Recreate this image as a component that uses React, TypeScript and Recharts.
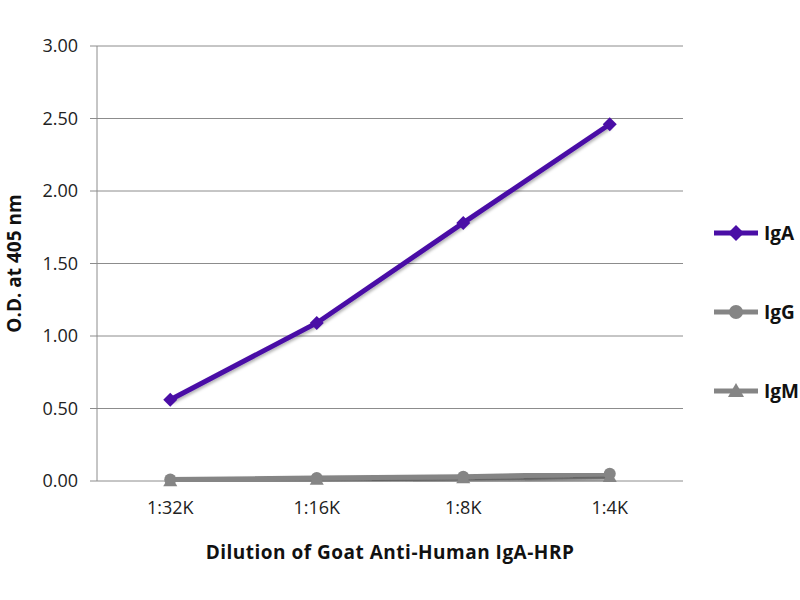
import { LineChart, Line, XAxis, YAxis, CartesianGrid } from 'recharts'

const dilutions = ['1:32K', '1:16K', '1:8K', '1:4K']
const igA = [0.56, 1.09, 1.78, 2.46]
const igG = [0.01, 0.02, 0.03, 0.05]
const igM = [0.0, 0.01, 0.02, 0.03]
const yTicks = [0, 0.5, 1, 1.5, 2, 2.5, 3]

const purple = '#4a0ea6'
const grey = '#858585'
const font = '"Open Sans", "Noto Sans", sans-serif'

// rows sit in the middle of each category band
const chartData = dilutions.map((label, i) => ({
  x: i + 0.5,
  label,
  IgA: igA[i],
  IgG: igG[i],
  IgM: igM[i],
}))

const series = [
  { key: 'IgA', color: purple, shape: 'diamond' },
  { key: 'IgG', color: grey, shape: 'circle' },
  { key: 'IgM', color: grey, shape: 'triangle' },
]

function Marker({ cx, cy, shape, color, size = 6 }: any) {
  if (cx == null || cy == null) return null
  if (shape === 'diamond') {
    const s = size + 1
    return <polygon points={`${cx},${cy - s} ${cx + s},${cy} ${cx},${cy + s} ${cx - s},${cy}`} fill={color} />
  }
  if (shape === 'triangle') {
    const s = size + 1
    return <polygon points={`${cx},${cy - s} ${cx + s},${cy + s * 0.75} ${cx - s},${cy + s * 0.75}`} fill={color} />
  }
  return <circle cx={cx} cy={cy} r={size} fill={color} />
}

function LegendBox() {
  return (
    <div style={{ position: 'absolute', left: 712, top: 193, fontFamily: font }}>
      {series.map((s) => (
        <div key={s.key} style={{ display: 'flex', alignItems: 'center', height: 79 }}>
          <svg width={50} height={30}>
            <line x1={2} y1={15} x2={46} y2={15} stroke={s.color} strokeWidth={5} />
            <Marker cx={24} cy={15} shape={s.shape} color={s.color} size={7} />
          </svg>
          <span style={{ fontWeight: 700, fontSize: 19, color: '#111', marginLeft: 2 }}>{s.key}</span>
        </div>
      ))}
    </div>
  )
}

export default function App() {
  return (
    <div style={{ position: 'absolute', left: 0, top: 0, width: 800, height: 600, background: '#fff' }}>
      <LineChart
        width={800}
        height={600}
        data={chartData}
        margin={{ top: 46, right: 117, bottom: 89, left: 0 }}
      >
        <defs>
          <filter id="shadow" x="-10%" y="-10%" width="120%" height="130%">
            <feDropShadow dx="1" dy="2" stdDeviation="1.5" floodColor="#000" floodOpacity="0.3" />
          </filter>
        </defs>
        <CartesianGrid horizontal vertical={false} stroke="#8c8c8c" strokeWidth={1} />
        <XAxis
          dataKey="x"
          type="number"
          domain={[0, 4]}
          ticks={[0.5, 1.5, 2.5, 3.5]}
          tickFormatter={(v: number) => dilutions[Math.floor(v)]}
          tickLine={false}
          axisLine={false}
          tick={{ fill: '#222', fontSize: 18, fontFamily: font }}
          tickMargin={14}
          label={{
            value: 'Dilution of Goat Anti-Human IgA-HRP',
            position: 'insideBottom',
            offset: -48,
            style: { fontFamily: font, fontWeight: 700, fontSize: 19, letterSpacing: 0.5, fill: '#111' },
          }}
        />
        <XAxis
          xAxisId="bands"
          dataKey="x"
          type="number"
          domain={[0, 4]}
          ticks={[0, 1, 2, 3, 4]}
          tick={false}
          tickLine={{ stroke: '#8c8c8c' }}
          tickSize={7}
          axisLine={{ stroke: '#8c8c8c' }}
          height={0}
        />
        <YAxis
          domain={[0, 3]}
          ticks={yTicks}
          tickFormatter={(v: number) => v.toFixed(2)}
          width={97}
          tickSize={7}
          tickMargin={12}
          tickLine={{ stroke: '#8c8c8c' }}
          axisLine={{ stroke: '#8c8c8c' }}
          tick={{ fill: '#222', fontSize: 18, fontFamily: font }}
          label={{
            value: 'O.D. at 405 nm',
            angle: -90,
            position: 'insideLeft',
            offset: 14,
            style: { fontFamily: font, fontWeight: 700, fontSize: 19, fill: '#111', textAnchor: 'middle' },
          }}
        />
        {series.map((s) => (
          <Line
            key={s.key}
            dataKey={s.key}
            stroke={s.color}
            strokeWidth={5}
            filter="url(#shadow)"
            isAnimationActive={false}
            dot={(p: any) => <Marker key={`${s.key}-${p.index}`} cx={p.cx} cy={p.cy} shape={s.shape} color={s.color} />}
            activeDot={false}
          />
        )).reverse()}
      </LineChart>
      <LegendBox />
    </div>
  )
}
